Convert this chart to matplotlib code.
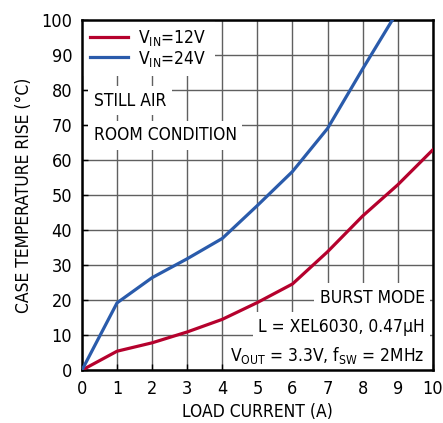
import matplotlib
matplotlib.use('Agg')
import matplotlib.pyplot as plt

plt.rcParams['font.family'] = ['DejaVu Sans']
plt.rcParams['font.stretch'] = 'condensed'
plt.rcParams['mathtext.fontset'] = 'custom'
plt.rcParams['mathtext.rm'] = 'DejaVu Sans:stretch=condensed'

# данные
load_a = [0, 1, 2, 3, 4, 5, 6, 7, 8, 9, 10]
rise_12v = [0, 5.4, 7.8, 10.9, 14.5, 19.3, 24.6, 33.8, 44.0, 52.9, 62.9]
load_24 = [0, 1, 2, 3, 4, 5, 6, 7, 8, 9]
rise_24v = [0, 19.2, 26.4, 31.8, 37.6, 47.0, 56.7, 69.0, 86.0, 102.5]

red = '#b5012d'
blue = '#2a5bab'

fig = plt.figure(figsize=(4.43, 4.23), dpi=100)
ax = fig.add_axes([0.185, 0.125, 0.792, 0.828])

ax.plot(load_a, rise_12v, color=red, lw=2.3, label=r'V$_{\mathregular{IN}}$=12V', zorder=3)
ax.plot(load_24, rise_24v, color=blue, lw=2.3, label=r'V$_{\mathregular{IN}}$=24V', zorder=3)

ax.set_xlim(0, 10)
ax.set_ylim(0, 100)
ax.set_xticks(range(0, 11))
ax.set_yticks(range(0, 101, 10))
ax.grid(True, color='#606060', lw=1.0)
ax.tick_params(direction='in', length=4, labelsize=13, width=1, pad=7)
for s in ax.spines.values():
    s.set_linewidth(1.8)

ax.set_xlabel('LOAD CURRENT (A)', fontsize=12.5, labelpad=4)
ax.set_ylabel('CASE TEMPERATURE RISE (°C)', fontsize=12.5, labelpad=6)

# легенда и подписи под рамкой, но над сеткой
leg = ax.legend(loc='upper left', fontsize=12.5, handlelength=2.2, handletextpad=0.6,
                labelspacing=0.05, borderaxespad=0.0, borderpad=0.45,
                frameon=True, fancybox=False, facecolor='white', edgecolor='none', framealpha=1)
leg.set_zorder(2.4)

box = dict(facecolor='white', edgecolor='none', pad=4)
ax.text(0.34, 76.9, 'STILL AIR', fontsize=12.5, va='center', ha='left', bbox=box, zorder=2.4)
ax.text(0.34, 67.1, 'ROOM CONDITION', fontsize=12.5, va='center', ha='left', bbox=box, zorder=2.4)
ax.text(9.77, 20.6, 'BURST MODE', fontsize=12.5, va='center', ha='right', bbox=box, zorder=2.4)
ax.text(9.77, 12.3, 'L = XEL6030, 0.47µH', fontsize=12.5, va='center', ha='right', bbox=box, zorder=2.4)
ax.text(9.77, 4.3, r'V$_{\mathregular{OUT}}$ = 3.3V, f$_{\mathregular{SW}}$ = 2MHz', fontsize=12.5,
        va='center', ha='right', bbox=box, zorder=2.4)

fig.savefig('out.png', dpi=100)
